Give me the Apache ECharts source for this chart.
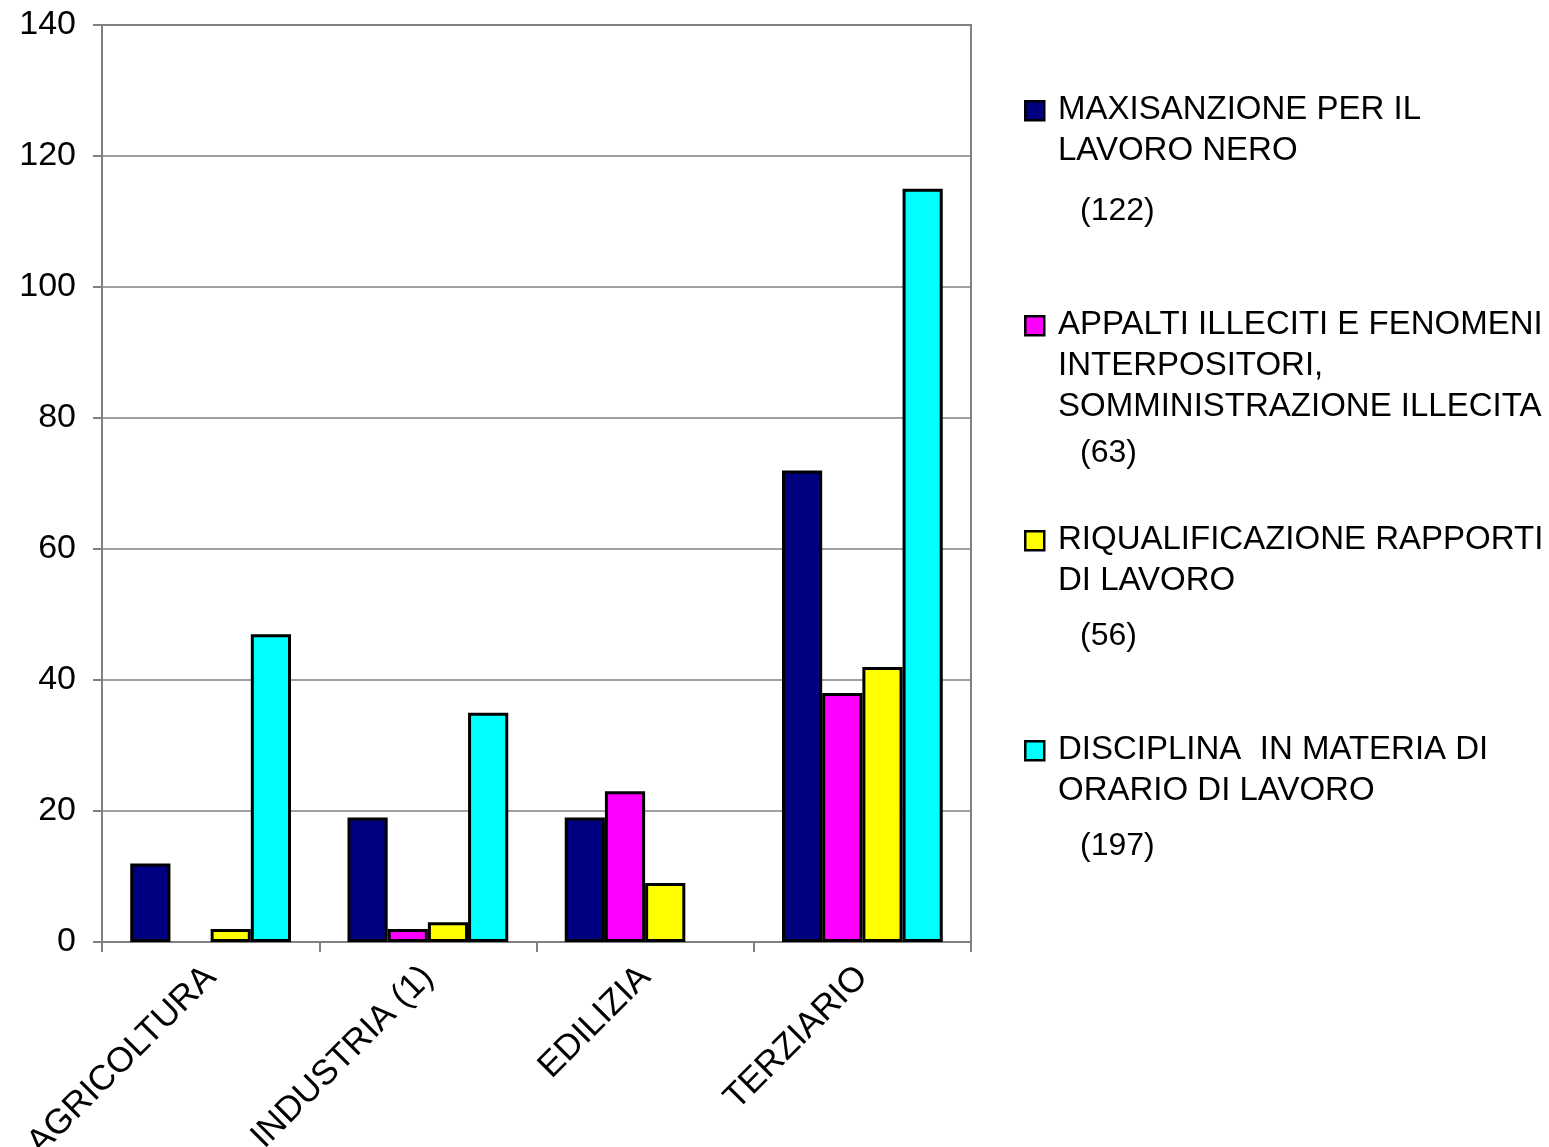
<!DOCTYPE html>
<html>
<head>
<meta charset="utf-8">
<script src="https://cdn.jsdelivr.net/npm/echarts@6/dist/echarts.min.js"></script>
<style>
html,body{margin:0;padding:0;background:#fff;}
#chart{width:1549px;height:1147px;}
</style>
</head>
<body>
<div id="chart"></div>
<script>
const categories = ['AGRICOLTURA', 'INDUSTRIA (1)', 'EDILIZIA', 'TERZIARIO'];
const seriesNames = [
  'MAXISANZIONE PER IL LAVORO NERO',
  'APPALTI ILLECITI E FENOMENI INTERPOSITORI, SOMMINISTRAZIONE ILLECITA',
  'RIQUALIFICAZIONE RAPPORTI DI LAVORO',
  'DISCIPLINA IN MATERIA DI ORARIO DI LAVORO'
];
const maxisanzione = [12, 19, 19, 72];
const appalti = [0, 2, 23, 38];
const riqualificazione = [2, 3, 9, 42];
const orario = [47, 35, 0, 115];
const seriesColors = ['#000080', '#FF00FF', '#FFFF00', '#00FFFF'];
const yTicks = [0, 20, 40, 60, 80, 100, 120, 140];

const legendLines = [
  ['MAXISANZIONE PER IL', 'LAVORO NERO'],
  ['APPALTI ILLECITI E FENOMENI', 'INTERPOSITORI,', 'SOMMINISTRAZIONE ILLECITA'],
  ['RIQUALIFICAZIONE RAPPORTI', 'DI LAVORO'],
  ['DISCIPLINA  IN MATERIA DI', 'ORARIO DI LAVORO']
];
const legendTotals = ['(122)', '(63)', '(56)', '(197)'];

const allValues = [maxisanzione, appalti, riqualificazione, orario];

// legend layout
const legendIconY = [110, 325, 540, 750];
const legendTotalGap = [60, 46, 55, 55];
const lineH = 41;
const FONT = 'Liberation Sans, Arial, sans-serif';

const graphics = [];
legendLines.forEach((lines, i) => {
  const cy = legendIconY[i];
  graphics.push({
    type: 'rect',
    left: 1024, top: cy - 10,
    shape: { width: 19, height: 19 },
    style: { fill: seriesColors[i], stroke: '#000', lineWidth: 2.5 }
  });
  lines.forEach((t, j) => {
    graphics.push({
      type: 'text',
      x: 1058, y: cy + j * lineH,
      style: { text: t, fill: '#000', font: '33px ' + FONT, textVerticalAlign: 'middle', textAlign: 'left' }
    });
  });
  const lastY = cy + (lines.length - 1) * lineH;
  graphics.push({
    type: 'text',
    x: 1080, y: lastY + legendTotalGap[i],
    style: { text: legendTotals[i], fill: '#000', font: '32px ' + FONT, textVerticalAlign: 'middle', textAlign: 'left' }
  });
});

const chart = echarts.init(document.getElementById('chart'), null, { renderer: 'canvas' });
chart.setOption({
  backgroundColor: '#fff',
  animation: false,
  grid: {
    left: 102, right: 578, top: 25, bottom: 205,
    containLabel: false, outerBoundsMode: 'none',
    show: true, borderColor: '#808080', borderWidth: 2, backgroundColor: 'transparent'
  },
  xAxis: {
    type: 'category',
    data: categories,
    boundaryGap: true,
    axisLine: { lineStyle: { color: '#808080', width: 2 } },
    axisTick: { show: true, alignWithLabel: false, length: 10, lineStyle: { color: '#808080', width: 2 } },
    axisLabel: {
      rotate: 45, color: '#000', fontSize: 35, fontFamily: FONT, margin: 30, interval: 0
    },
    splitLine: { show: false }
  },
  yAxis: {
    type: 'value',
    min: yTicks[0], max: yTicks[yTicks.length - 1], interval: 20,
    axisLine: { show: true, lineStyle: { color: '#808080', width: 2 } },
    axisTick: { show: true, length: 9, lineStyle: { color: '#808080', width: 2 } },
    axisLabel: { color: '#000', fontSize: 34, fontFamily: FONT, margin: 26 },
    splitLine: { show: true, lineStyle: { color: '#808080', width: 1.5 } }
  },
  graphic: graphics,
  series: allValues.map((vals, i) => ({
    name: seriesNames[i],
    type: 'bar',
    data: vals.map(v => (v === 0 ? '-' : v)),
    barGap: '0%',
    barCategoryGap: '26%',
    itemStyle: { color: seriesColors[i], borderColor: '#000', borderWidth: 3 }
  }))
});
</script>
</body>
</html>
